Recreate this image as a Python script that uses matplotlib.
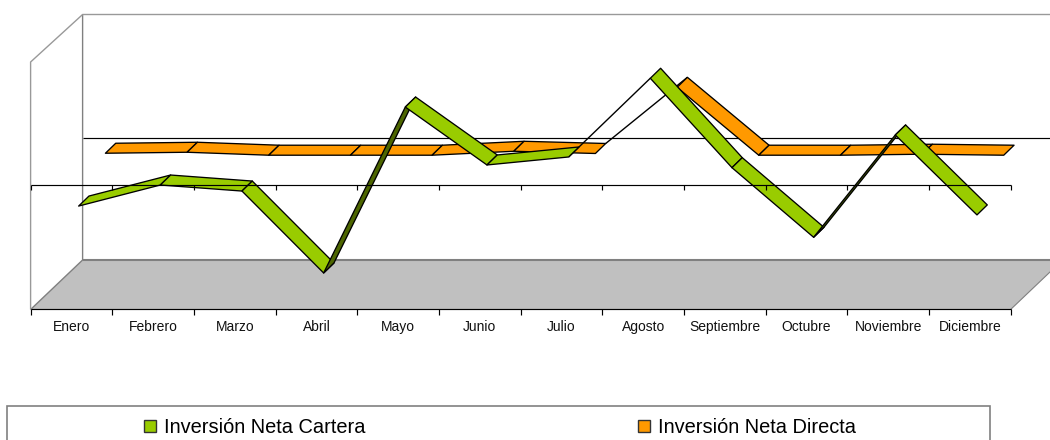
import numpy as np
import matplotlib
matplotlib.use('Agg')
import matplotlib.pyplot as plt
from matplotlib.patches import Polygon, Rectangle

plt.rcParams['font.family'] = ['Liberation Sans', 'DejaVu Sans']

meses = ['Enero', 'Febrero', 'Marzo', 'Abril', 'Mayo', 'Junio', 'Julio',
         'Agosto', 'Septiembre', 'Octubre', 'Noviembre', 'Diciembre']
cartera = [-228, -57, -106, -772, 577, 106, 171, 811, 84, -482, 350, -300]
directa = [-10, -2, -26, -26, -26, 6, -12, 526, -26, -26, -18, -26]

W, H = 1050, 440
GREEN = '#99CC00'
DARK_GREEN = '#4D6600'
ORANGE = '#FF9900'
GREY = '#C0C0C0'
EDGE = '#808080'

fig = plt.figure(figsize=(W / 100, H / 100), dpi=100, facecolor='white')

# plot box of the front plane, in pixels
L, R, TOP, BOT = 30.6, 1010.6, 62, 309.5
YMIN, YMAX = -1012, 1000
ax = fig.add_axes([L / W, 1 - BOT / H, (R - L) / W, (BOT - TOP) / H])
ax.set_xlim(0, 12)
ax.set_ylim(YMIN, YMAX)
ax.axis('off')

px_x = 12 / (R - L)
px_y = (YMAX - YMIN) / (BOT - TOP)


def depth(d):
    # 3d depth of d pixels, up and to the right, in data units
    return d * 1.03 * px_x, d * px_y


def poly(pts, fc, ec='black', lw=0.95, z=2):
    ax.add_patch(Polygon(pts, closed=True, facecolor=fc, edgecolor=ec, lw=lw,
                         joinstyle='round', clip_on=False, zorder=z))


def line(xs, ys, c='black', lw=0.85, z=1):
    ax.plot(xs, ys, color=c, lw=lw, clip_on=False, zorder=z, solid_capstyle='butt')


# walls and floor
wx = 52 * px_x
wy = 47.5 * px_y
fy = YMIN + 49.5 * px_y
poly([(0, YMIN), (wx, fy), (12 + wx, fy), (12, YMIN)], GREY, ec='none', z=0.5)
line([wx, 12 + wx], [fy, fy], EDGE, 1.5, 0.6)
line([0, wx, wx], [YMIN, fy, YMAX + wy], EDGE, 1.0, 0.7)
line([0, 0, wx, 12 + wx], [YMIN, YMAX, YMAX + wy, YMAX + wy], '#999999', 1.0, 0.7)
line([12, 12 + wx], [YMIN, fy], EDGE, 0.8, 0.7)
line([wx, 12 + wx], [wy, wy], 'black', 0.85, 0.8)


def ribbon(values, d0, d1, color, z, dark=(), only_edge=None, edge_depth=0):
    x0, y0 = depth(d0)
    x1, y1 = depth(d1)
    cx = np.arange(len(values)) + 0.5
    for i in range(len(values) - 1):
        a, b = values[i], values[i + 1]
        if i == only_edge:
            # ribbon seen edge on: just an unfilled line
            ex, ey = depth(edge_depth)
            line([cx[i] + ex, cx[i + 1] + ex], [a + ey, b + ey], 'black', 1.0, z - 0.5)
            continue
        fc = DARK_GREEN if i in dark else color
        poly([(cx[i] + x0, a + y0), (cx[i + 1] + x0, b + y0),
              (cx[i + 1] + x1, b + y1), (cx[i] + x1, a + y1)], fc, z=z + i * 0.01)


ribbon(directa, 33, 43, ORANGE, 2, only_edge=6, edge_depth=43)
ribbon(cartera, 7, 17, GREEN, 3, dark=(3, 9), only_edge=6, edge_depth=7)

# axis lines on the front plane
line([0, 12], [0, 0], 'black', 0.85, 4)
line([0, 12], [YMIN, YMIN], 'black', 0.85, 4)
for k in range(13):
    line([k, k], [0, -5 * px_y], 'black', 0.85, 4)
    line([k, k], [YMIN, YMIN - 5 * px_y], 'black', 0.85, 4)
for i, m in enumerate(meses):
    ax.text(i + 0.5, YMIN - 21.5 * px_y, m, ha='center', va='baseline', fontsize=10, color='#111111')

# legend box runs off the bottom of the image
fig.add_artist(Rectangle((7 / W, -0.05), 983 / W, 0.05 + 1 - 406 / H, transform=fig.transFigure,
                         facecolor='white', edgecolor=EDGE, lw=1.2))
for x, c, name in [(144, GREEN, 'Inversión Neta Cartera'), (638, ORANGE, 'Inversión Neta Directa')]:
    fig.add_artist(Rectangle((x / W, 1 - 432 / H), 12 / W, 12 / H, transform=fig.transFigure,
                             facecolor=c, edgecolor='#333333', lw=1.0))
    fig.text((x + 20) / W, 1 - 427 / H, name, ha='left', va='center', fontsize=14.4, color='black')

fig.savefig('out.png', dpi=100)
